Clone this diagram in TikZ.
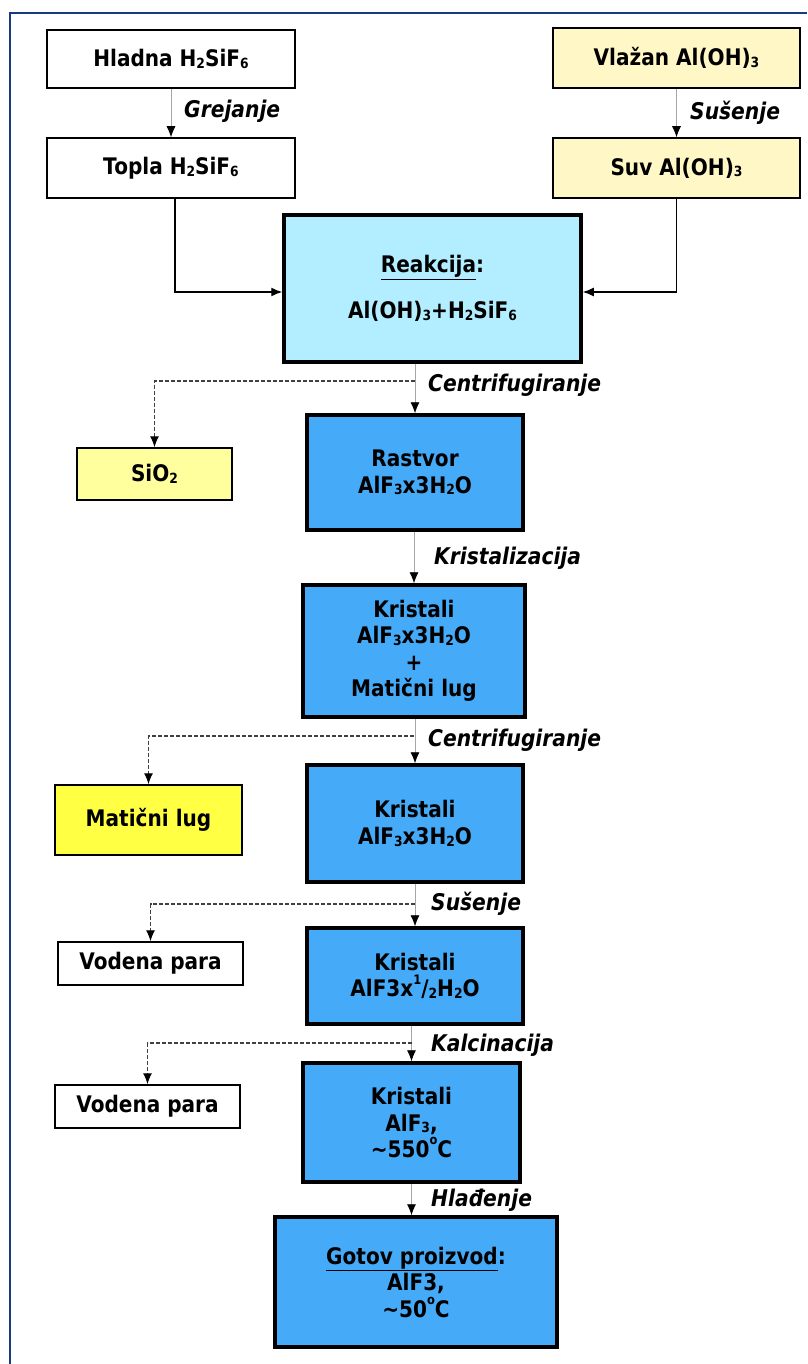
\documentclass[tikz,border=0pt]{standalone}
\usepackage{fontspec}
\setmainfont{DejaVu Sans}[FakeStretch=0.88]
\usetikzlibrary{arrows.meta,calc}
\definecolor{frameblue}{HTML}{1A3A80}
\definecolor{reakcol}{HTML}{B2EEFF}
\definecolor{procblue}{HTML}{45AAF8}
\definecolor{paleyellow}{HTML}{FFF8C6}
\definecolor{sioyellow}{HTML}{FFFF9E}
\definecolor{lugyellow}{HTML}{FFFF44}
\newcommand\sbs[1]{\raisebox{-0.08em}{\fontsize{14}{14}\selectfont #1}}
\newcommand\sps[1]{\raisebox{0.55em}{\fontsize{13}{13}\selectfont #1}}
\begin{document}
\begin{tikzpicture}[x=1pt,y=-1pt,
  box/.style={draw=black, line width=1.5pt, font=\fontsize{22.8}{26.5}\selectfont\bfseries, align=center, inner sep=0pt},
  bbox/.style={box, fill=procblue, line width=3.5pt},
  lbl/.style={font=\fontsize{23}{25}\selectfont\bfseries\itshape, anchor=west, inner sep=0pt},
  arr/.style={draw=gray!70, line width=0.8pt, -{Latex[black,length=11pt,width=9pt]}},
  arrb/.style={draw=black, line width=1.4pt, -{Latex[black,length=11pt,width=9pt]}},
  dsh/.style={draw=black!75, line width=1.2pt, dash pattern=on 4pt off 2pt, -{Latex[black,length=11pt,width=9pt]}}
]
\useasboundingbox (0,0) rectangle (807,1364);
\fill[white] (0,0) rectangle (807,1364);
\draw[frameblue, line width=2.5pt] (10,1364) -- (10,13) -- (807,13);

% top boxes
\node[box, minimum width=248pt, minimum height=58pt] (hladna) at (171,59) {Hladna H\sbs{2}SiF\sbs{6}};
\node[box, minimum width=248pt, minimum height=60pt] (topla) at (171,168) {Topla H\sbs{2}SiF\sbs{6}};
\node[box, fill=paleyellow, minimum width=247pt, minimum height=60pt] (vlazan) at (676.5,58) {Vlažan Al(OH)\sbs{3}};
\node[box, fill=paleyellow, minimum width=247pt, minimum height=60pt] (suv) at (676.5,168) {Suv Al(OH)\sbs{3}};

\node[box, fill=reakcol, line width=3.5pt, minimum width=297pt, minimum height=147pt] (reak) at (432.5,288.5)
  {\underline{Reakcija}:\\[19.5pt] Al(OH)\sbs{3}+H\sbs{2}SiF\sbs{6}};

\node[box, fill=sioyellow, minimum width=155pt, minimum height=52pt] (sio2) at (154.5,474) {SiO\sbs{2}};
\node[bbox, minimum width=216pt, minimum height=115pt] (rastvor) at (415,472.5) {Rastvor\\ AlF\sbs{3}x3H\sbs{2}O};
\node[bbox, minimum width=222pt, minimum height=132pt] (kris1) at (414,651) {Kristali\\ AlF\sbs{3}x3H\sbs{2}O\\ +\\ Matični lug};
\node[box, fill=lugyellow, minimum width=187pt, minimum height=70pt] (maticni) at (148.5,820) {Matični lug};
\node[bbox, minimum width=216pt, minimum height=117pt] (kris2) at (415,823.5) {Kristali\\ AlF\sbs{3}x3H\sbs{2}O};
\node[box, minimum width=185pt, minimum height=43pt] (vodena1) at (150.5,963.5) {Vodena para};
\node[bbox, minimum width=216pt, minimum height=96pt] (kris3) at (415,976) {Kristali\\ AlF3x\sps{1}/\sbs{2}H\sbs{2}O};
\node[box, minimum width=185pt, minimum height=43pt] (vodena2) at (147.5,1106.5) {Vodena para};
\node[bbox, minimum width=217pt, minimum height=119pt] (kris4) at (411.5,1122.5) {Kristali\\ AlF\sbs{3},\\ \textasciitilde550\sps{o}C};
\node[bbox, minimum width=282pt, minimum height=130pt] (gotov) at (416,1282) {\underline{Gotov proizvod}:\\ AlF3,\\ \textasciitilde50\sps{o}C};

% main connectors
\draw[arr] (hladna.south) -- (topla.north);
\draw[arr] (vlazan.south) -- (suv.north);
\draw[arrb] ([xshift=4pt]topla.south) |- ([yshift=-3.5pt]reak.west);
\draw[arrb] (suv.south) |- ([yshift=-3.5pt]reak.east);
\draw[arr] (reak.south -| rastvor.north) -- (rastvor.north);
\draw[arr] (rastvor.south -| kris1.north) -- (kris1.north);
\draw[arr] (kris1.south -| kris2.north) -- (kris2.north);
\draw[arr] (kris2.south) -- (kris3.north);
\draw[arr] (kris3.south -| kris4.north) -- (kris4.north);
\draw[arr] (kris4.south) -- (kris4.south |- gotov.north);

% side branches
\coordinate (c1) at (415,381);
\coordinate (c2) at (414,736);
\coordinate (c3) at (415,904);
\coordinate (c4) at (411.5,1043);
\draw[dsh] (c1) -| (sio2.north);
\draw[dsh] (c2) -| (maticni.north);
\draw[dsh] (c3) -| (vodena1.north);
\draw[dsh] (c4) -| (vodena2.north);

% labels
\node[lbl] (l1) at (184,111) {Grejanje};
\node[lbl] (l2) at (690,113) {Sušenje};
\node[lbl] (l3) at (428,385) {Centrifugiranje};
\node[lbl] (l4) at (434,558) {Kristalizacija};
\node[lbl] (l5) at (428,740) {Centrifugiranje};
\node[lbl] (l6) at (431,904) {Sušenje};
\node[lbl] (l7) at (431,1045) {Kalcinacija};
\node[lbl] (l8) at (431,1200) {Hlađenje};
\end{tikzpicture}
\end{document}
